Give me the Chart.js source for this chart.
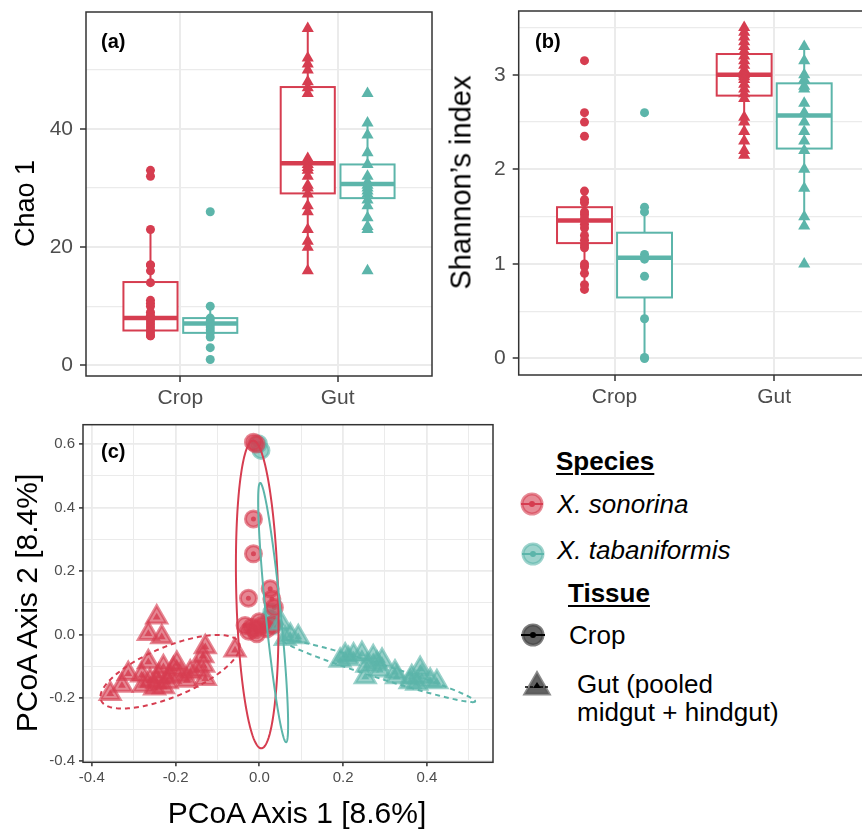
<!DOCTYPE html>
<html><head><meta charset="utf-8">
<script src="https://cdn.jsdelivr.net/npm/chart.js@4.4.0/dist/chart.umd.min.js"></script>
<style>
html,body{margin:0;padding:0;width:862px;height:831px;overflow:hidden;background:#fff;font-family:"Liberation Sans",Arial,sans-serif;}
canvas{position:absolute;}
.t{position:absolute;white-space:nowrap;color:#000;line-height:1;font-family:"Liberation Sans",Arial,sans-serif;}
.rot{transform:rotate(-90deg);transform-origin:center center;text-align:center;width:300px;}
.lg{font-size:26px;}
.b{font-weight:bold;}
.u{text-decoration:underline;text-decoration-thickness:2px;text-underline-offset:3px;}
</style></head><body>
<canvas id="ca" width="440" height="420" style="left:0;top:0"></canvas>
<canvas id="cb" width="440" height="420" style="left:440px;top:0"></canvas>
<canvas id="cc" width="510" height="411" style="left:0;top:420px"></canvas>

<div class="t rot" style="font-size:27px;left:-125px;top:190px;">Chao 1</div>
<div class="t rot" style="font-size:29px;left:311px;top:168px;">Shannon’s index</div>
<div class="t rot" style="font-size:30px;left:-123px;top:588px;">PCoA Axis 2 [8.4%]</div>
<div class="t" style="font-size:30px;left:97px;top:798px;width:400px;text-align:center;">PCoA Axis 1 [8.6%]</div>
<div class="t b" style="font-size:20px;left:101px;top:31px;">(a)</div>
<div class="t b" style="font-size:20px;left:535px;top:31px;">(b)</div>
<div class="t b" style="font-size:20px;left:101px;top:441px;">(c)</div>

<div class="t lg b u" style="left:556px;top:448px;">Species</div>
<div class="t lg" style="left:557px;top:491px;font-style:italic;">X. sonorina</div>
<div class="t lg" style="left:557px;top:537px;font-style:italic;">X. tabaniformis</div>
<div class="t lg b u" style="left:568px;top:580px;">Tissue</div>
<div class="t lg" style="left:569px;top:622px;">Crop</div>
<div class="t lg" style="left:577px;top:671px;">Gut (pooled</div>
<div class="t lg" style="left:577px;top:699px;">midgut + hindgut)</div>

<svg style="position:absolute;left:510px;top:480px;" width="50" height="230">
  <g transform="translate(22,24)">
    <circle r="10" fill="rgba(214,61,80,0.6)" stroke="rgba(214,61,80,0.6)" stroke-width="3"/>
    <line x1="-11" x2="11" y1="0" y2="0" stroke="#D63D50" stroke-width="2"/>
    <circle r="3" fill="#D63D50"/>
  </g>
  <g transform="translate(23,74)">
    <circle r="10" fill="rgba(92,181,170,0.6)" stroke="rgba(92,181,170,0.6)" stroke-width="3"/>
    <line x1="-11" x2="11" y1="0" y2="0" stroke="#5CB5AA" stroke-width="2"/>
    <circle r="3" fill="#5CB5AA"/>
  </g>
  <g transform="translate(23,155)">
    <circle r="10" fill="rgba(70,70,70,0.85)" stroke="rgba(70,70,70,0.7)" stroke-width="3"/>
    <line x1="-12" x2="12" y1="0" y2="0" stroke="#000" stroke-width="2"/>
    <circle r="3" fill="#000"/>
  </g>
  <g transform="translate(27,206)">
    <polygon points="0,-13 12,8 -12,8" fill="rgba(70,70,70,0.85)" stroke="rgba(90,90,90,0.7)" stroke-width="3"/>
    <line x1="-12" x2="13" y1="1" y2="1" stroke="#000" stroke-width="1.6" stroke-dasharray="3,2"/>
    <polygon points="0,-4 4,2 -4,2" fill="#000"/>
  </g>
</svg>

<script>
// ---------------- DATA ----------------
const categories = ['Crop', 'Gut'];
const speciesNames = ['X. sonorina', 'X. tabaniformis'];

// Panel (a) Chao 1
const chaoSonorinaCrop = [33, 32, 23, 17, 17, 16, 14, 11, 10.5, 10, 9, 8.5, 8, 7.5, 7, 6.5, 6, 5.5, 5, 5];
const chaoTabanCrop = [26, 10, 8, 7.5, 7, 6.5, 6, 5.5, 4.8, 3, 1];
const chaoSonorinaGut = [57, 52, 51, 50, 48, 47, 46, 35, 34, 33.5, 33, 32, 30.5, 30, 29, 27, 26, 23, 21, 20, 16];
const chaoTabanGut = [46, 41, 39, 36, 34, 32, 31, 30.5, 30, 29.5, 29, 28, 27, 25, 23.5, 23, 16];
// box stats [lower whisker, q1, median, q3, upper whisker] for Crop, Gut
const chaoBoxSonorina = [[5, 5.9, 8.0, 14.1, 23], [16, 29.1, 34.2, 47.1, 57]];
const chaoBoxTaban = [[4.8, 5.5, 7.1, 8.0, 10], [23, 28.3, 30.7, 34, 41]];
const chaoMajorTicks = [0, 20, 40];
const chaoMinorTicks = [10, 30, 50];

// Panel (b) Shannon
const shanSonorinaCrop = [3.15, 2.6, 2.5, 2.35, 1.77, 1.68, 1.65, 1.55, 1.52, 1.48, 1.42, 1.38, 1.3, 1.25, 1.2, 1.17, 1.0, 0.97, 0.9, 0.78, 0.73];
const shanTabanCrop = [2.6, 1.6, 1.55, 1.1, 1.05, 0.87, 0.42, 0.01, 0.0];
const shanSonorinaGut = [3.5, 3.45, 3.4, 3.35, 3.3, 3.25, 3.2, 3.15, 3.1, 3.05, 3.0, 2.98, 2.95, 2.9, 2.85, 2.8, 2.75, 2.55, 2.5, 2.4, 2.3, 2.2, 2.15];
const shanTabanGut = [3.3, 3.15, 3.0, 2.95, 2.88, 2.85, 2.7, 2.6, 2.5, 2.4, 2.3, 2.2, 2.0, 1.8, 1.5, 1.4, 1.0];
const shanBoxSonorina = [[0.73, 1.22, 1.46, 1.60, 1.77], [2.15, 2.78, 3.0, 3.22, 3.5]];
const shanBoxTaban = [[0.0, 0.645, 1.066, 1.33, 1.6], [1.4, 2.22, 2.57, 2.91, 3.3]];
const shanMajorTicks = [0, 1, 2, 3];
const shanMinorTicks = [0.5, 1.5, 2.5, 3.5];

// Panel (c) PCoA
const pcSonorinaCropX = [-0.014, -0.008, -0.014, -0.014, -0.026, 0.026, 0.030, 0.036, -0.018, 0.006, -0.034, -0.006, 0.018, -0.025, 0.0, 0.03, -0.01];
const pcSonorinaCropY = [0.606, 0.600, 0.364, 0.254, 0.114, 0.144, 0.112, 0.085, 0.023, 0.028, 0.028, 0.002, 0.018, 0.010, 0.040, 0.030, 0.015];
const pcTabanCropX = [-0.002, 0.004, 0.030, 0.034, 0.025];
const pcTabanCropY = [0.601, 0.580, 0.070, 0.028, 0.050];
const pcSonorinaGutX = [-0.245, -0.265, -0.233, -0.129, -0.058, -0.135, -0.265, -0.313, -0.328, -0.356, -0.133, -0.129, -0.165, -0.197, -0.229, -0.245, -0.261, -0.213, -0.229, -0.189, -0.277, -0.205, -0.173, -0.149, -0.281, -0.25, -0.22, -0.24];
const pcSonorinaGutY = [0.054, 0.002, -0.008, -0.040, -0.050, -0.068, -0.087, -0.124, -0.161, -0.187, -0.098, -0.140, -0.119, -0.092, -0.103, -0.150, -0.145, -0.134, -0.166, -0.129, -0.161, -0.108, -0.145, -0.113, -0.129, -0.170, -0.150, -0.130];
const pcTabanGutX = [0.074, 0.093, 0.062, 0.052, 0.205, 0.225, 0.245, 0.272, 0.293, 0.193, 0.257, 0.253, 0.288, 0.324, 0.328, 0.364, 0.384, 0.388, 0.408, 0.424, 0.376, 0.360, 0.213, 0.281];
const pcTabanGutY = [-0.003, -0.008, -0.014, 0.035, -0.066, -0.066, -0.061, -0.071, -0.082, -0.082, -0.098, -0.134, -0.113, -0.119, -0.134, -0.134, -0.108, -0.134, -0.145, -0.150, -0.155, -0.150, -0.077, -0.092];
// ellipse: centre, half-axis A, conjugate half-axis B (data units)
const ellSonorinaCrop = {c: [-0.005, 0.126], a: [-0.0095, 0.485], b: [0.050, -0.0017]};
const ellTabanCrop = {c: [0.033, 0.069], a: [-0.031, 0.4085], b: [0.0179, 0.0024]};
const ellSonorinaGut = {c: [-0.213, -0.1175], a: [0.1648, 0.0904], b: [0.0229, -0.0728]};
const ellTabanGut = {c: [0.286, -0.115], a: [0.2293, -0.0961], b: [-0.005, -0.0211]};
const pcXMajorTicks = [-0.4, -0.2, 0, 0.2, 0.4];
const pcXMinorTicks = [-0.3, -0.1, 0.1, 0.3, 0.5];
const pcYMajorTicks = [-0.4, -0.2, 0, 0.2, 0.4, 0.6];
const pcYMinorTicks = [-0.3, -0.1, 0.1, 0.3, 0.5];

// ---------------- STYLE ----------------
const RED = '#D63D50', TEAL = '#5CB5AA';
const REDA = 'rgba(214,61,80,0.62)', TEALA = 'rgba(92,181,170,0.62)';
const FONT = '"Liberation Sans", Arial, sans-serif';
const GRID = '#EBEBEB';

const isIn = (arr, v) => arr.some(m => Math.abs(m - v) < 1e-9);

const frame = {
  id: 'frame',
  afterDraw(chart) {
    const {ctx, chartArea: a} = chart;
    ctx.save(); ctx.strokeStyle = '#333'; ctx.lineWidth = 1.5;
    ctx.strokeRect(a.left, a.top, a.right - a.left, a.bottom - a.top);
    ctx.restore();
  }
};

function boxPlugin(boxes, halfW) {
  return {
    id: 'boxes',
    beforeDatasetsDraw(chart) {
      const {ctx, scales: {x, y}} = chart;
      boxes.forEach(b => {
        b.stats.forEach((s, i) => {
          const xc = i + 1 + b.dodge;
          const xl = x.getPixelForValue(xc - halfW), xr = x.getPixelForValue(xc + halfW), xm = x.getPixelForValue(xc);
          const [lo, q1, med, q3, hi] = s.map(v => y.getPixelForValue(v));
          ctx.save();
          ctx.strokeStyle = b.color; ctx.lineWidth = 2;
          ctx.beginPath(); ctx.moveTo(xm, q3); ctx.lineTo(xm, hi); ctx.moveTo(xm, q1); ctx.lineTo(xm, lo); ctx.stroke();
          ctx.fillStyle = '#fff'; ctx.fillRect(xl, q3, xr - xl, q1 - q3);
          ctx.strokeRect(xl, q3, xr - xl, q1 - q3);
          ctx.lineWidth = 4.5; ctx.beginPath(); ctx.moveTo(xl, med); ctx.lineTo(xr, med); ctx.stroke();
          ctx.restore();
        });
      });
    }
  };
}

function linAxis(majors, minors, min, max, fmt, opt) {
  return {
    type: 'linear', min, max,
    afterBuildTicks: s => { s.ticks = majors.concat(minors).sort((p, q) => p - q).map(v => ({value: v})); },
    afterFit: s => {
      if (opt.w !== undefined) { s.width = opt.w; s.paddingTop = 0; s.paddingBottom = 0; }
      if (opt.h !== undefined) { s.height = opt.h; s.paddingLeft = 0; s.paddingRight = 0; }
    },
    border: {display: false},
    grid: {
      color: GRID,
      lineWidth: c => isIn(majors, c.tick.value) ? opt.major : opt.minor,
      tickColor: c => isIn(majors, c.tick.value) ? '#333' : 'rgba(0,0,0,0)',
      tickWidth: 1.5, tickLength: opt.tl, drawTicks: true
    },
    ticks: {
      autoSkip: false, maxRotation: 0, padding: opt.pad, color: '#4D4D4D',
      font: {family: FONT, size: opt.fs},
      callback: v => isIn(majors, v) ? fmt(v) : ''
    }
  };
}

function pts(vals, xpos) { return vals.map(v => ({x: xpos, y: v})); }

function boxPanel(id, sCrop, tCrop, sGut, tGut, boxS, boxT, majors, minors, ymin, ymax, dodge, yw, pad) {
  const ds = (data, color, style, r) => ({data, pointStyle: style, pointRadius: r, pointHoverRadius: r, backgroundColor: color, borderColor: color, borderWidth: 0});
  new Chart(document.getElementById(id), {
    type: 'scatter',
    data: {datasets: [
      ds(pts(sCrop, 1 - dodge), RED, 'circle', 4.5),
      ds(pts(tCrop, 1 + dodge), TEAL, 'circle', 4.5),
      ds(pts(sGut, 2 - dodge), RED, 'triangle', 7),
      ds(pts(tGut, 2 + dodge), TEAL, 'triangle', 7)
    ]},
    options: {
      responsive: false, animation: false, devicePixelRatio: 1,
      layout: {padding: pad, autoPadding: false},
      plugins: {legend: {display: false}, tooltip: {enabled: false}},
      scales: {
        x: linAxis([1, 2], [], 0.4, 2.6, v => categories[Math.round(v) - 1], {h: 44, tl: 6, pad: 4, fs: 21, major: 2, minor: 1}),
        y: linAxis(majors, minors, ymin, ymax, v => String(v), {w: yw, tl: 6, pad: 7, fs: 21, major: 2, minor: 1.2})
      }
    },
    plugins: [boxPlugin([{stats: boxS, dodge: -dodge, color: RED}, {stats: boxT, dodge: dodge, color: TEAL}], 0.172), frame]
  });
}

boxPanel('ca', chaoSonorinaCrop, chaoTabanCrop, chaoSonorinaGut, chaoTabanGut, chaoBoxSonorina, chaoBoxTaban,
  chaoMajorTicks, chaoMinorTicks, -1.8, 59.8, 0.19, 86, {top: 12, right: 8, left: 0, bottom: 0});
boxPanel('cb', shanSonorinaCrop, shanTabanCrop, shanSonorinaGut, shanTabanGut, shanBoxSonorina, shanBoxTaban,
  shanMajorTicks, shanMinorTicks, -0.175, 3.675, 0.188, 78.7, {top: 11, right: 10, left: 0, bottom: 1});

// ---------------- PCoA ----------------
const xy = (xs, ys) => xs.map((v, i) => ({x: v, y: ys[i]}));
const ellipsePlugin = {
  id: 'ellipses',
  afterDatasetsDraw(chart) {
    const {ctx, scales: {x, y}, chartArea: ar} = chart;
    const list = [
      {e: ellSonorinaGut, color: RED, dash: [5, 4]},
      {e: ellTabanGut, color: TEAL, dash: [5, 4]},
      {e: ellSonorinaCrop, color: RED, dash: []},
      {e: ellTabanCrop, color: TEAL, dash: []}
    ];
    ctx.save();
    ctx.beginPath(); ctx.rect(ar.left, ar.top, ar.right - ar.left, ar.bottom - ar.top); ctx.clip();
    list.forEach(({e, color, dash}) => {
      ctx.strokeStyle = color; ctx.lineWidth = 2; ctx.setLineDash(dash);
      ctx.beginPath();
      for (let k = 0; k <= 200; k++) {
        const t = k / 200 * Math.PI * 2;
        const px = x.getPixelForValue(e.c[0] + e.a[0] * Math.cos(t) + e.b[0] * Math.sin(t));
        const py = y.getPixelForValue(e.c[1] + e.a[1] * Math.cos(t) + e.b[1] * Math.sin(t));
        if (k === 0) ctx.moveTo(px, py); else ctx.lineTo(px, py);
      }
      ctx.closePath(); ctx.stroke();
    });
    ctx.restore();
  }
};
const big = (data, fill, style, r) => ({data, pointStyle: style, pointRadius: r, pointHoverRadius: r, backgroundColor: fill, borderColor: fill, borderWidth: 3});
const small = (data, col, style, r) => ({data, pointStyle: style, pointRadius: r, pointHoverRadius: r, backgroundColor: col, borderColor: col, borderWidth: 0});
const sG = xy(pcSonorinaGutX, pcSonorinaGutY), tG = xy(pcTabanGutX, pcTabanGutY);
const sC = xy(pcSonorinaCropX, pcSonorinaCropY), tC = xy(pcTabanCropX, pcTabanCropY);
const fmt1 = v => v.toFixed(1);
new Chart(document.getElementById('cc'), {
  type: 'scatter',
  data: {datasets: [
    big(sG, REDA, 'triangle', 11.5), big(tG, TEALA, 'triangle', 11.5),
    big(sC, REDA, 'circle', 8), big(tC, TEALA, 'circle', 8),
    small(sG, 'rgba(214,61,80,0.8)', 'triangle', 4.5), small(tG, 'rgba(92,181,170,0.8)', 'triangle', 4.5),
    small(sC, 'rgba(214,61,80,0.85)', 'circle', 2.5), small(tC, 'rgba(92,181,170,0.85)', 'circle', 2.5)
  ]},
  options: {
    responsive: false, animation: false, devicePixelRatio: 1,
    layout: {padding: {top: 4.7, right: 17, left: 0, bottom: 0}, autoPadding: false},
    plugins: {legend: {display: false}, tooltip: {enabled: false}},
    scales: {
      x: linAxis(pcXMajorTicks, pcXMinorTicks, -0.421, 0.558, fmt1, {h: 68.7, tl: 4, pad: 3, fs: 15, major: 1.8, minor: 1}),
      y: linAxis(pcYMajorTicks, pcYMinorTicks, -0.403, 0.661, fmt1, {w: 83, tl: 4, pad: 4, fs: 15, major: 1.8, minor: 1})
    }
  },
  plugins: [ellipsePlugin, frame]
});
</script>
</body></html>
